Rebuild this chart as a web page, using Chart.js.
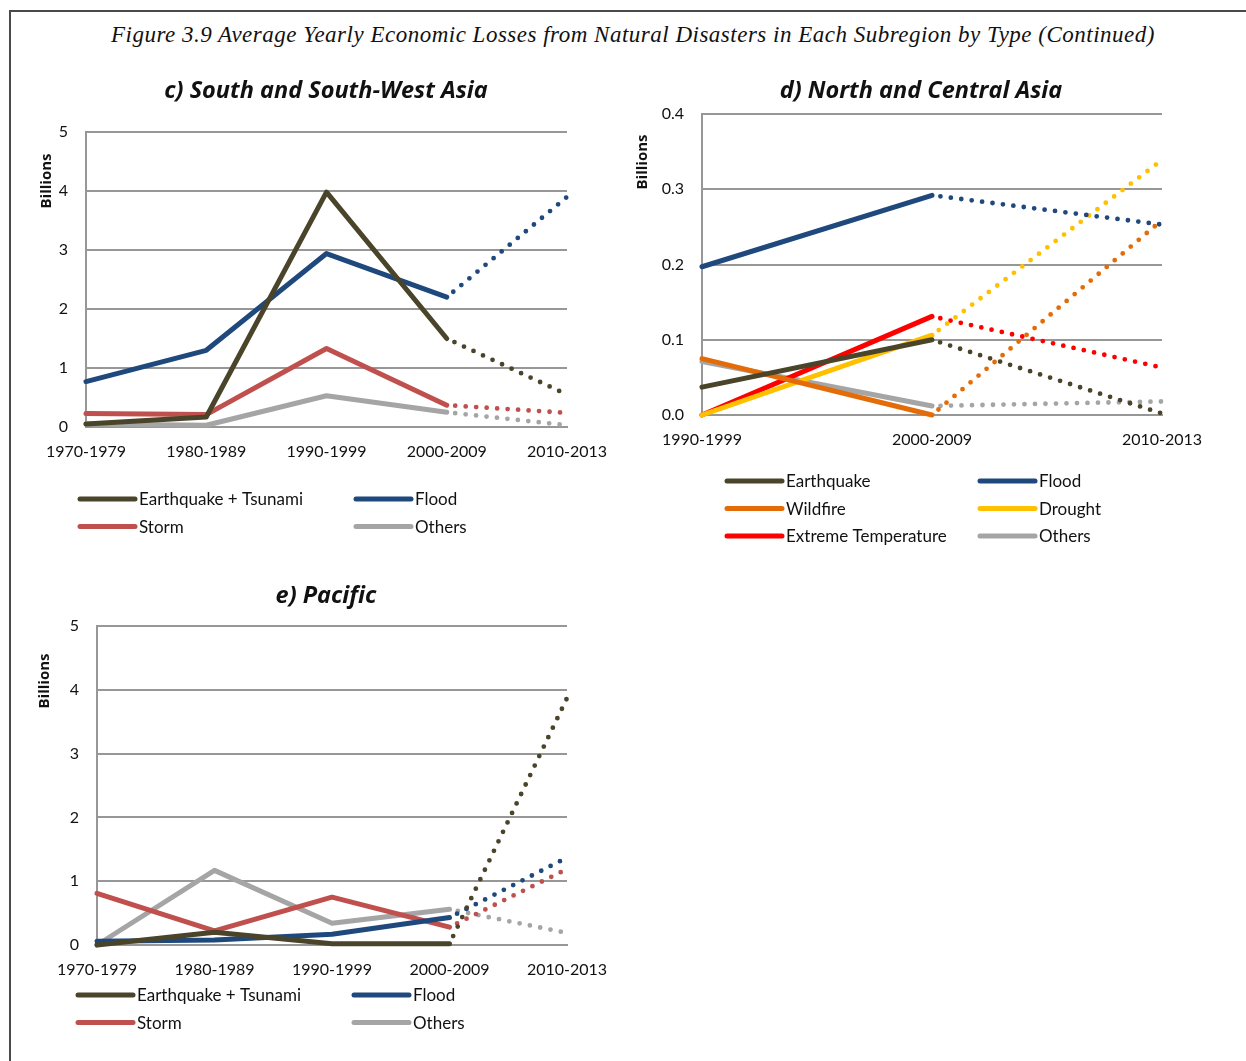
<!DOCTYPE html>
<html>
<head>
<meta charset="utf-8">
<title>Average Yearly Economic Losses from Natural Disasters</title>
<script src="https://cdn.jsdelivr.net/npm/chart.js@4.4.1/dist/chart.umd.min.js"></script>
<style>
  html, body { margin: 0; padding: 0; background: #fff; }
  body { width: 1246px; height: 1061px; position: relative; overflow: hidden; }
  .frame { position: absolute; left: 9px; top: 10px; width: 1300px; height: 1100px;
           border-left: 2px solid #4a4a4a; border-top: 2px solid #4a4a4a; }
  .fig-title { position: absolute; left: 0; top: 22px; width: 1266px; text-align: center;
               font: italic 23px "Liberation Serif", "Times New Roman", serif; letter-spacing: 0.5px;
               color: #111; white-space: nowrap; }
  .panel { position: absolute; }
</style>
</head>
<body>
<div class="frame"></div>
<div class="fig-title">Figure 3.9 Average Yearly Economic Losses from Natural Disasters in Each Subregion by Type (Continued)</div>
<div class="panel" style="left:26px; top:70px; width:600px; height:490px;"><canvas id="chartC" width="600" height="490"></canvas></div>
<div class="panel" style="left:630px; top:70px; width:592px; height:490px;"><canvas id="chartD" width="592" height="490"></canvas></div>
<div class="panel" style="left:26px; top:575px; width:600px; height:486px;"><canvas id="chartE" width="600" height="486"></canvas></div>
<script>
// ---- Categories ----
const periodsLong = ['1970-1979', '1980-1989', '1990-1999', '2000-2009', '2010-2013'];
const periodsShort = ['1990-1999', '2000-2009', '2010-2013'];

// ---- Tick labels (billions) ----
const ticksFive = [0, 1, 2, 3, 4, 5];
const ticksSmall = [0, 0.1, 0.2, 0.3, 0.4];

// ---- c) South and South-West Asia ----
const swEarthquake = [0.05, 0.17, 3.98, 1.50, 0.55];
const swFlood      = [0.77, 1.30, 2.94, 2.20, 3.90];
const swStorm      = [0.23, 0.21, 1.33, 0.37, 0.24];
const swOthers     = [0.05, 0.03, 0.53, 0.25, 0.03];

// ---- d) North and Central Asia ----
const ncEarthquake = [0.037, 0.100, 0.002];
const ncFlood      = [0.197, 0.292, 0.253];
const ncWildfire   = [0.075, 0.000, 0.259];
const ncDrought    = [0.000, 0.106, 0.339];
const ncExtTemp    = [0.000, 0.131, 0.063];
const ncOthers     = [0.071, 0.012, 0.018];

// ---- e) Pacific ----
const pcEarthquake = [0.00, 0.20, 0.02, 0.02, 3.87];
const pcFlood      = [0.06, 0.08, 0.17, 0.43, 1.37];
const pcStorm      = [0.81, 0.22, 0.75, 0.28, 1.19];
const pcOthers     = [0.00, 1.17, 0.34, 0.56, 0.19];

const COLORS = {
  earthquake: '#4a452a',
  flood: '#1f497d',
  storm: '#c0504d',
  others: '#a5a5a5',
  wildfire: '#e36c09',
  drought: '#ffc000',
  exttemp: '#ff0000'
};

const GRID = '#979797';
const TEXT = '#111';
const BASE_FONT = 'Lato, "Open Sans", sans-serif';
const HEAD_FONT = '"Open Sans", Lato, sans-serif';

// Lines turn dotted from the last full decade onwards (the 2010-2013 partial period).
function series(label, data, color, dottedFrom) {
  return {
    label, data,
    borderColor: color,
    backgroundColor: color,
    borderWidth: 5,
    borderCapStyle: 'round',
    borderJoinStyle: 'round',
    pointRadius: 0,
    pointHoverRadius: 0,
    tension: 0,
    clip: 8,
    segment: {
      borderDash: c => c.p0DataIndex >= dottedFrom ? [0, 10.5] : undefined,
      borderDashOffset: c => c.p0DataIndex >= dottedFrom ? 2 : undefined,
      borderWidth: c => c.p0DataIndex >= dottedFrom ? 4.8 : undefined
    }
  };
}

// Panel heading centred at a fixed position.
const headline = {
  id: 'headline',
  afterDraw(chart, args, o) {
    const ctx = chart.ctx;
    ctx.save();
    ctx.font = o.font;
    ctx.fillStyle = o.color;
    ctx.textAlign = 'center';
    ctx.textBaseline = 'middle';
    ctx.fillText(o.text, o.x, o.y);
    ctx.restore();
  }
};

// Two-column legend laid out below the plot.
const gridLegend = {
  id: 'gridLegend',
  afterDraw(chart, args, o) {
    const ctx = chart.ctx;
    ctx.save();
    ctx.font = o.font;
    ctx.textBaseline = 'middle';
    ctx.textAlign = 'left';
    chart.data.datasets.forEach((ds, i) => {
      const col = i % o.columns.length;
      const row = Math.floor(i / o.columns.length);
      const x = o.columns[col];
      const y = o.top + row * o.rowGap;
      ctx.strokeStyle = ds.borderColor;
      ctx.lineWidth = o.lineWidth;
      ctx.lineCap = 'round';
      ctx.beginPath();
      ctx.moveTo(x, y);
      ctx.lineTo(x + o.lineLength, y);
      ctx.stroke();
      ctx.fillStyle = o.color;
      ctx.fillText(ds.label, x + o.lineLength + o.gap, y + 1);
    });
    ctx.restore();
  }
};

// Rotated unit caption beside the value axis.
const axisCaption = {
  id: 'axisCaption',
  afterDraw(chart, args, o) {
    const ctx = chart.ctx;
    ctx.save();
    ctx.translate(o.x, chart.chartArea.top + o.dy);
    ctx.rotate(-Math.PI / 2);
    ctx.font = o.font;
    ctx.fillStyle = o.color;
    ctx.textAlign = 'center';
    ctx.textBaseline = 'middle';
    ctx.fillText(o.text, 0, 0);
    ctx.restore();
  }
};

function buildChart(id, cfg) {
  return new Chart(document.getElementById(id), {
    type: 'line',
    data: { labels: cfg.labels, datasets: cfg.datasets },
    plugins: [headline, gridLegend, axisCaption],
    options: {
      responsive: false,
      animation: false,
      events: [],
      layout: { padding: { left: 0, right: cfg.padRight, top: cfg.padTop, bottom: cfg.padBottom } },
      plugins: {
        legend: { display: false },
        tooltip: { enabled: false },
        title: { display: false },
        headline: {
          text: cfg.title, x: cfg.titleX, y: 21,
          font: 'italic bold 23.5px ' + HEAD_FONT, color: TEXT
        },
        gridLegend: {
          columns: cfg.legendCols, top: cfg.legendTop, rowGap: 27.5,
          lineLength: 55, lineWidth: 5, gap: 4,
          font: '17px ' + BASE_FONT, color: TEXT
        },
        axisCaption: {
          text: 'Billions', x: cfg.captionX, dy: cfg.captionDy,
          font: 'bold 15px ' + HEAD_FONT, color: TEXT
        }
      },
      scales: {
        x: {
          type: 'category',
          offset: false,
          grid: { display: false, drawTicks: false },
          border: { display: true, color: GRID, width: 2 },
          ticks: { color: TEXT, font: { family: BASE_FONT, size: 16 }, padding: 15, maxRotation: 0, autoSkip: false },
          afterFit: s => { s.height = 40; }
        },
        y: {
          min: cfg.yTicks[0],
          max: cfg.yTicks[cfg.yTicks.length - 1],
          afterBuildTicks: s => { s.ticks = cfg.yTicks.map(v => ({ value: v })); },
          grid: { color: GRID, lineWidth: 2, drawTicks: false },
          border: { display: true, color: GRID, width: 2 },
          ticks: {
            color: TEXT, font: { family: BASE_FONT, size: 16 }, padding: 18,
            callback: v => cfg.tickFmt(v)
          },
          afterFit: s => { s.width = cfg.yWidth; }
        }
      }
    }
  });
}

buildChart('chartC', {
  title: 'c) South and South-West Asia', titleX: 300,
  labels: periodsLong,
  yTicks: ticksFive,
  tickFmt: v => String(v),
  datasets: [
    series('Earthquake + Tsunami', swEarthquake, COLORS.earthquake, 3),
    series('Flood', swFlood, COLORS.flood, 3),
    series('Storm', swStorm, COLORS.storm, 3),
    series('Others', swOthers, COLORS.others, 3)
  ],
  yWidth: 60, padRight: 59, padTop: 62, padBottom: 93,
  legendCols: [54, 330], legendTop: 429,
  captionX: 21, captionDy: 49
});

buildChart('chartD', {
  title: 'd) North and Central Asia', titleX: 291,
  labels: periodsShort,
  yTicks: ticksSmall,
  tickFmt: v => v.toFixed(1),
  datasets: [
    series('Earthquake', ncEarthquake, COLORS.earthquake, 1),
    series('Flood', ncFlood, COLORS.flood, 1),
    series('Wildfire', ncWildfire, COLORS.wildfire, 1),
    series('Drought', ncDrought, COLORS.drought, 1),
    series('Extreme Temperature', ncExtTemp, COLORS.exttemp, 1),
    series('Others', ncOthers, COLORS.others, 1)
  ],
  yWidth: 72, padRight: 60, padTop: 44, padBottom: 105,
  legendCols: [97, 350], legendTop: 411,
  captionX: 12.5, captionDy: 48
});

buildChart('chartE', {
  title: 'e) Pacific', titleX: 300,
  labels: periodsLong,
  yTicks: ticksFive,
  tickFmt: v => String(v),
  datasets: [
    series('Earthquake + Tsunami', pcEarthquake, COLORS.earthquake, 3),
    series('Flood', pcFlood, COLORS.flood, 3),
    series('Storm', pcStorm, COLORS.storm, 3),
    series('Others', pcOthers, COLORS.others, 3)
  ],
  yWidth: 71, padRight: 59, padTop: 51, padBottom: 76,
  legendCols: [52, 328], legendTop: 420,
  captionX: 19, captionDy: 55
});
</script>
</body>
</html>
